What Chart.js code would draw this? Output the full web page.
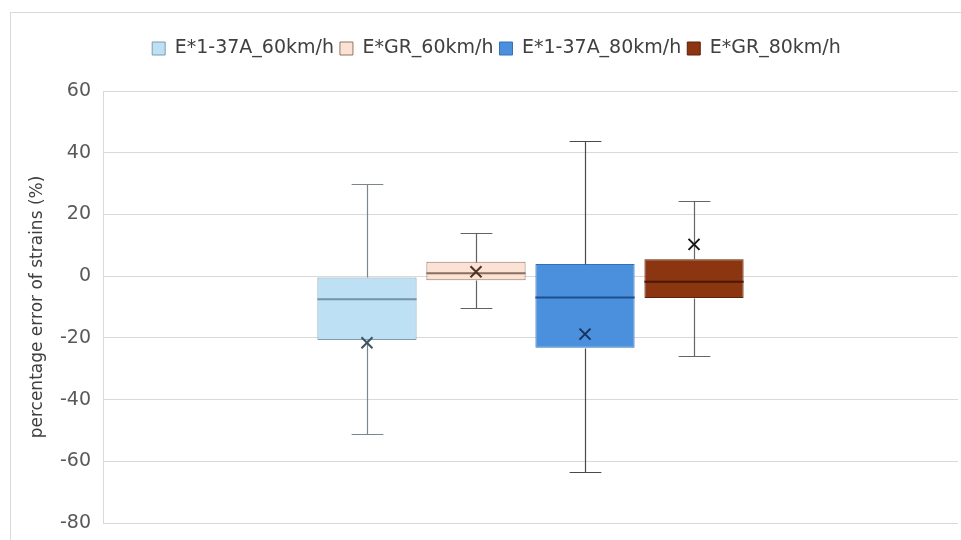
<!DOCTYPE html>
<html>
<head>
<meta charset="utf-8">
<script src="https://cdn.jsdelivr.net/npm/chart.js@4.4.1/dist/chart.umd.min.js"></script>
<style>
  html, body { margin: 0; padding: 0; background: #fff; overflow: hidden; }
  #frame { position: absolute; left: 10px; top: 12px; width: 1000px; height: 1000px; border: 1px solid #d9d9d9; }
  #wrap { position: absolute; left: 0; top: 0; width: 961px; height: 540px; }
</style>
</head>
<body>
<div id="frame"></div>
<div id="wrap"><canvas id="boxChart"></canvas></div>
<script>
// --- datos ---
const seriesNames = ['E*1-37A_60km/h', 'E*GR_60km/h', 'E*1-37A_80km/h', 'E*GR_80km/h'];
const minValues    = [-51.2, -10.2, -63.6, -25.9];
const q1Values     = [-20.7, -1.3, -23.2, -7.1];
const medianValues = [-7.5, 0.9, -6.9, -1.8];
const q3Values     = [-0.4, 4.7, 3.9, 5.5];
const maxValues    = [29.8, 13.9, 43.8, 24.3];
const meanValues   = [-21.6, 1.4, -18.8, 10.3];
const yTicks = [-80, -60, -40, -20, 0, 20, 40, 60];

// --- estilos ---
const fillColors   = ['#bde0f5', '#fbe2d5', '#4a90dc', '#8b3511'];
const borderColors = ['#7d9cae', '#8f7565', '#3370b8', '#5e220a'];
const whiskerColors = ['#7a878f', '#66605c', '#4a4a4a', '#666666'];
const medianColors = ['#7893a3', '#8a6e5e', '#1f4f8f', '#4a1805'];
const meanColors   = ['#3c5566', '#4d3325', '#17325e', '#161616'];

// lineas de bigotes, mediana y media sobre las barras flotantes
const boxPlotLines = {
  id: 'boxPlotLines',
  afterDatasetsDraw(chart) {
    const ctx = chart.ctx;
    const y = chart.scales.y;
    chart.data.datasets.forEach((ds, i) => {
      const bar = chart.getDatasetMeta(i).data[0];
      const cx = Math.round(bar.x) + 0.5;
      const half = bar.width / 2;
      const capHalf = bar.width * 0.16;
      const py = v => Math.round(y.getPixelForValue(v)) + 0.5;

      ctx.save();
      ctx.lineWidth = 1.2;
      ctx.strokeStyle = whiskerColors[i];
      ctx.beginPath();
      ctx.moveTo(cx, py(q3Values[i]));
      ctx.lineTo(cx, py(maxValues[i]));
      ctx.moveTo(cx - capHalf, py(maxValues[i]));
      ctx.lineTo(cx + capHalf, py(maxValues[i]));
      ctx.moveTo(cx, py(q1Values[i]));
      ctx.lineTo(cx, py(minValues[i]));
      ctx.moveTo(cx - capHalf, py(minValues[i]));
      ctx.lineTo(cx + capHalf, py(minValues[i]));
      ctx.stroke();

      ctx.lineWidth = 2;
      ctx.strokeStyle = medianColors[i];
      ctx.beginPath();
      ctx.moveTo(bar.x - half, y.getPixelForValue(medianValues[i]));
      ctx.lineTo(bar.x + half, y.getPixelForValue(medianValues[i]));
      ctx.stroke();

      const my = y.getPixelForValue(meanValues[i]);
      const s = 5.5;
      ctx.lineWidth = 2;
      ctx.strokeStyle = meanColors[i];
      ctx.beginPath();
      ctx.moveTo(bar.x - s, my - s);
      ctx.lineTo(bar.x + s, my + s);
      ctx.moveTo(bar.x + s, my - s);
      ctx.lineTo(bar.x - s, my + s);
      ctx.stroke();
      ctx.restore();
    });
  }
};

// espacio extra bajo la leyenda y desplazamiento horizontal
const legendSpacing = {
  id: 'legendSpacing',
  beforeInit(chart) {
    const fit = chart.legend.fit;
    chart.legend.fit = function () {
      fit.bind(chart.legend)();
      this.height += 23;
    };
  },
  afterLayout(chart) {
    chart.legend.left += 12;
    chart.legend.right += 12;
  }
};

const datasets = seriesNames.map((name, i) => ({
  label: name,
  data: [[q1Values[i], q3Values[i]]],
  backgroundColor: fillColors[i],
  borderColor: borderColors[i],
  borderWidth: 1,
  borderSkipped: false,
  categoryPercentage: 0.51,
  barPercentage: 0.91
}));

const ctx = document.getElementById('boxChart').getContext('2d');
new Chart(ctx, {
  type: 'bar',
  data: { labels: [''], datasets: datasets },
  options: {
    responsive: true,
    maintainAspectRatio: false,
    animation: false,
    layout: { padding: { left: 11, right: 3, top: 33, bottom: 17 } },
    scales: {
      x: { display: false },
      y: {
        min: yTicks[0],
        max: yTicks[yTicks.length - 1],
        afterBuildTicks(scale) { scale.ticks = yTicks.map(v => ({ value: v })); },
        ticks: { color: '#595959', font: { family: 'DejaVu Sans', size: 19 }, padding: 12 },
        grid: { color: '#d9d9d9', drawTicks: false },
        border: { display: true, color: '#d9d9d9' },
        title: {
          display: true,
          text: 'percentage error of strains (%)',
          color: '#404040',
          font: { family: 'DejaVu Sans', size: 17 },
          padding: { top: 16, bottom: 0 }
        },
        afterFit(scale) {
          scale.width = 92;
          scale.paddingTop = 0;
          scale.paddingBottom = 0;
        }
      }
    },
    plugins: {
      legend: {
        position: 'top',
        labels: {
          color: '#404040',
          font: { family: 'DejaVu Sans', size: 19 },
          boxWidth: 13,
          boxHeight: 13,
          padding: 6
        }
      },
      tooltip: { enabled: false }
    }
  },
  plugins: [boxPlotLines, legendSpacing]
});
</script>
</body>
</html>
